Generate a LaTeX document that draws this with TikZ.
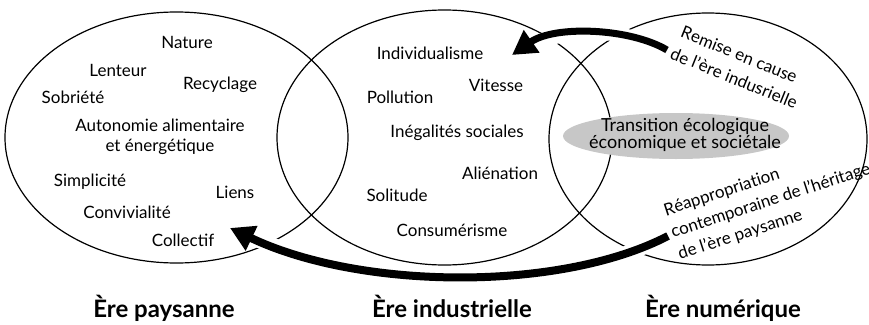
\documentclass[tikz,border=0pt]{standalone}
\usepackage{fontspec}
\setmainfont{Lato}
\usetikzlibrary{arrows.meta,decorations.text}
\newcommand{\lblfont}{\fontsize{17}{20}\selectfont}

\begin{document}
\begin{tikzpicture}[x=1pt,y=1pt]
  \tikzstyle{every node}+=[inner sep=0pt, font=\lblfont]
  \tikzstyle{era}=[font=\bfseries\fontsize{24}{28}\selectfont]
  \tikzstyle{halo}=[white, line width=14]
  \tikzstyle{flux}=[black, -{Triangle[length=24pt,width=26pt]}]
  \tikzstyle{slanted}=[decorate, decoration={text along path}]
  \useasboundingbox (0,0) rectangle (869,-324);
  % the three eras
  \draw [black, line width=1.2] (176.5,-137.5) ellipse [x radius=171.5pt, y radius=125.5pt];
  \draw [black, line width=1.2] (444.5,-137.5) ellipse [x radius=167.5pt, y radius=127.5pt];
  \draw [black, line width=1.2] (708,-139) ellipse [x radius=159pt, y radius=126pt];
  \draw (164,-317) node[era, anchor=base] (paysanne) {Ère paysanne};
  \draw (452,-317) node[era, anchor=base] (industrielle) {Ère industrielle};
  \draw (723,-317) node[era, anchor=base] (numerique) {Ère numérique};
  % ere paysanne
  \draw (187,-42) node (nature) {Nature};
  \draw (118,-70) node (lenteur) {Lenteur};
  \draw (220,-85) node (recyclage) {Recyclage};
  \draw (73,-97) node (sobriete) {Sobriété};
  \draw (160,-137) node[align=center] (autonomie) {Autonomie alimentaire\\et énergétique};
  \draw (90,-182) node (simplicite) {Simplicité};
  \draw (235,-192) node (liens) {Liens};
  \draw (127,-212) node (convivialite) {Convivialité};
  \draw (183,-240) node (collectif) {Collectif};
  % ere industrielle
  \draw (430,-53) node (individualisme) {Individualisme};
  \draw (496,-85) node (vitesse) {Vitesse};
  \draw (400,-97) node (pollution) {Pollution};
  \draw (457,-133) node (inegalites) {Inégalités sociales};
  \draw (500,-173) node (alienation) {Aliénation};
  \draw (397,-195) node (solitude) {Solitude};
  \draw (452,-230) node (consumerisme) {Consumérisme};
  % ere numerique
  \draw [fill=black!22, draw=none] (676,-136) ellipse [x radius=113pt, y radius=23pt];
  \draw (685,-135) node[align=center, font=\fontsize{18}{16}\selectfont] (transition) {Transition écologique\\économique et sociétale};
  \begin{scope}[shift={(737,-60)}, rotate=-22]
    \path [slanted, decoration={text={|\lblfont|Remise en cause}, text align=center}] (-100,0) -- (100,0);
    \path [slanted, decoration={text={|\lblfont|de l'ère indusrielle}, text align=center}] (-96,-24) -- (104,-24);
  \end{scope}
  \begin{scope}[shift={(666,-216)}, rotate=18]
    \path [slanted, decoration={text={|\lblfont|Réappropriation}, text align=left}] (0,0) -- (230,0);
    \path [slanted, decoration={text={|\lblfont|contemporaine de l'héritage}, text align=left}] (0,-23) -- (230,-23);
    \path [slanted, decoration={text={|\lblfont|de l'ère paysanne}, text align=left}] (0,-46) -- (230,-46);
  \end{scope}
  % arrows
  \coordinate (remisestart) at (667,-50);
  \coordinate (remiseend) at (512,-55);
  \coordinate (reapstart) at (668,-236);
  \coordinate (reapend) at (230,-228);
  \draw [halo] (remisestart) .. controls (630,-28) and (555,-25) .. (remiseend);
  \draw [flux, line width=7] (remisestart) .. controls (630,-28) and (555,-25) .. (remiseend);
  \draw [halo, line width=15] (reapstart) .. controls (560,-292) and (360,-290) .. (reapend);
  \draw [flux, line width=8] (reapstart) .. controls (560,-292) and (360,-290) .. (reapend);
\end{tikzpicture}
\end{document}
